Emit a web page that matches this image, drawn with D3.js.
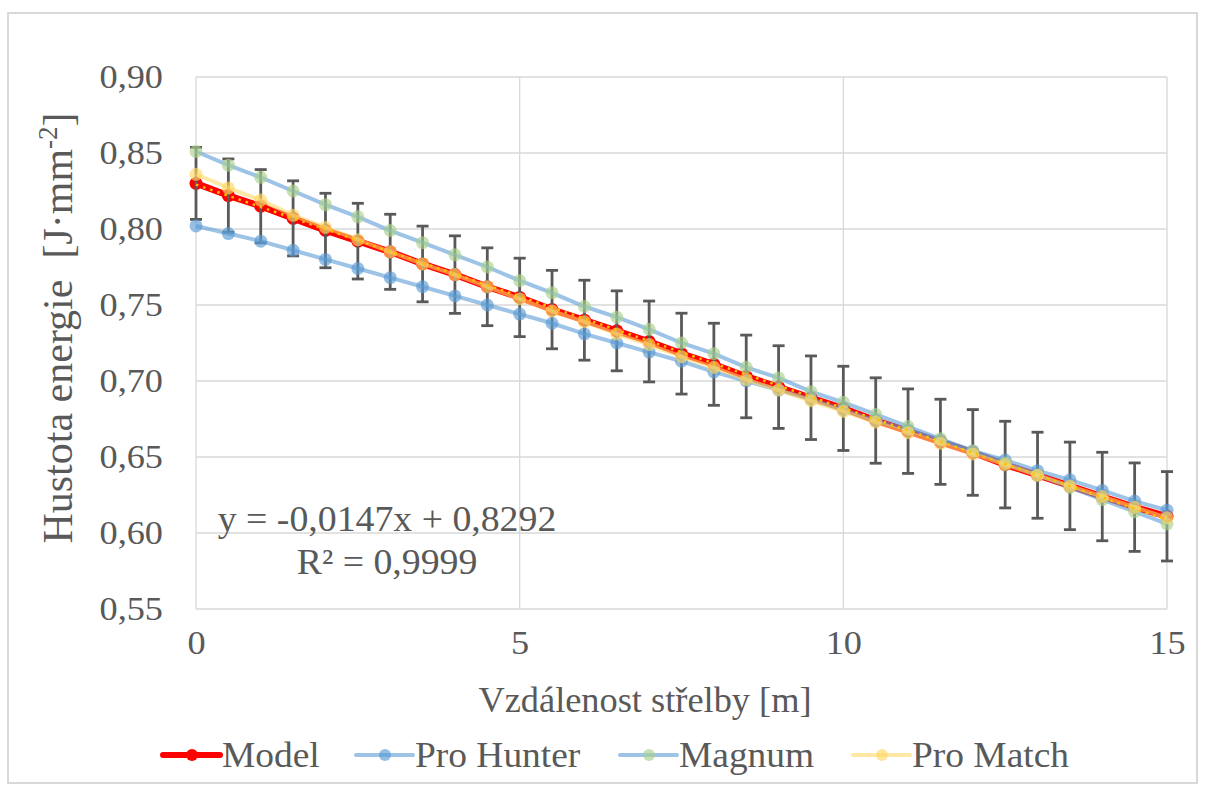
<!DOCTYPE html>
<html>
<head>
<meta charset="utf-8">
<script src="https://cdn.jsdelivr.net/npm/d3@7"></script>
<style>
  html, body { margin: 0; padding: 0; background: #fff; }
  svg { display: block; }
  text { font-family: "Liberation Serif", "Times New Roman", serif; fill: #595959; }
</style>
</head>
<body>
<svg id="chart" width="1206" height="790"></svg>
<script>
// ---- data ----
const distances = [0,0.5,1,1.5,2,2.5,3,3.5,4,4.5,5,5.5,6,6.5,7,7.5,8,8.5,9,9.5,10,10.5,11,11.5,12,12.5,13,13.5,14,14.5,15];
const model = [0.830,0.822,0.815,0.807,0.799,0.792,0.785,0.777,0.770,0.762,0.755,0.747,0.740,0.733,0.726,0.718,0.711,0.703,0.696,0.689,0.682,0.674,0.667,0.660,0.653,0.645,0.638,0.631,0.624,0.617,0.611];
const modelError = [0.0237,0.0241,0.0241,0.0247,0.0245,0.0249,0.0247,0.0249,0.0255,0.0256,0.0258,0.0258,0.0263,0.0263,0.0266,0.0266,0.0270,0.0272,0.0272,0.0275,0.0277,0.0281,0.0278,0.0280,0.0282,0.0285,0.0283,0.0288,0.0291,0.0291,0.0294];
const proHunter = [0.802,0.797,0.792,0.786,0.780,0.774,0.768,0.762,0.756,0.750,0.744,0.738,0.731,0.725,0.719,0.713,0.706,0.700,0.694,0.688,0.681,0.674,0.668,0.661,0.654,0.648,0.641,0.635,0.628,0.621,0.615];
const magnum = [0.851,0.842,0.834,0.825,0.816,0.808,0.799,0.791,0.783,0.775,0.766,0.758,0.749,0.742,0.734,0.725,0.718,0.709,0.702,0.693,0.686,0.678,0.670,0.662,0.654,0.646,0.638,0.630,0.622,0.614,0.606];
const proMatch = [0.836,0.827,0.819,0.809,0.801,0.793,0.785,0.777,0.770,0.762,0.754,0.746,0.739,0.731,0.724,0.716,0.709,0.701,0.694,0.687,0.680,0.673,0.666,0.659,0.652,0.645,0.638,0.631,0.624,0.617,0.610];
const trendSlope = -0.0147, trendIntercept = 0.8292;
const xTicks = [0,5,10,15];
const yTicks = [0.55,0.60,0.65,0.70,0.75,0.80,0.85,0.90];
const seriesNames = ["Model","Pro Hunter","Magnum","Pro Match"];

// ---- layout ----
const svg = d3.select("#chart");
const L = 196, R = 1167, T = 77, B = 609;
const x = d3.scaleLinear().domain([0,15]).range([L,R]);
const y = d3.scaleLinear().domain([0.55,0.90]).range([B,T]);
const fmt = v => d3.format(".2f")(v).replace(".", ",");
const SX = 1.08; // horizontal stretch of the reference's text

function stretchedText(parent, tx, ty, txt, size, anchor, sx) {
  return parent.append("text")
    .attr("transform", `translate(${tx},${ty}) scale(${sx||SX},1)`)
    .attr("text-anchor", anchor || "start").attr("font-size", size).text(txt);
}

// outer border
svg.append("rect").attr("x",8).attr("y",13).attr("width",1189).attr("height",770)
  .attr("fill","none").attr("stroke","#d9d9d9").attr("stroke-width",2);

// gridlines
const grid = svg.append("g");
grid.selectAll("line.h").data(yTicks).join("line")
  .attr("x1",L).attr("x2",R).attr("y1",d=>y(d)).attr("y2",d=>y(d))
  .attr("stroke","#d9d9d9").attr("stroke-width",1.3);
grid.selectAll("line.v").data(xTicks).join("line")
  .attr("y1",T).attr("y2",B).attr("x1",d=>x(d)).attr("x2",d=>x(d))
  .attr("stroke","#d9d9d9").attr("stroke-width",1.3);

// axes (labels only)
const yAxis = svg.append("g").attr("transform",`translate(${L},0)`)
  .call(d3.axisLeft(y).tickValues(yTicks).tickFormat(fmt).tickSize(0).tickPadding(33));
const xAxis = svg.append("g").attr("transform",`translate(0,${B})`)
  .call(d3.axisBottom(x).tickValues(xTicks).tickFormat(d3.format("d")).tickSize(0).tickPadding(22));
[yAxis,xAxis].forEach(a => {
  a.select(".domain").remove();
  a.selectAll("text").attr("font-size",33).attr("fill","#595959");
});
yAxis.selectAll("text").attr("x",null).attr("transform","translate(-33,0) scale(1.1,1)");
xAxis.selectAll("text").attr("transform","scale(1.1,1)");

// titles
stretchedText(svg, 645, 712, "Vzdálenost střelby [m]", 36, "middle", 1.01);
const yt = svg.append("text").attr("transform","translate(72,328) rotate(-90)")
  .attr("text-anchor","middle").attr("font-size",42).attr("xml:space","preserve")
  .style("white-space","pre");
yt.append("tspan").text("Hustota energie  [J·mm");
yt.append("tspan").attr("dy",-15).attr("font-size",27).text("-2");
yt.append("tspan").attr("dy",15).text("]");

const line = d3.line().x((d,i)=>x(distances[i])).y(d=>y(d));

// model (red)
svg.append("path").datum(model).attr("d",line).attr("fill","none")
  .attr("stroke","#ff0000").attr("stroke-width",6.5).attr("stroke-linejoin","round");
svg.append("g").selectAll("circle").data(model).join("circle")
  .attr("cx",(d,i)=>x(distances[i])).attr("cy",d=>y(d)).attr("r",6.5).attr("fill","#ff0000");

// error bars
const eb = svg.append("g").attr("stroke","#595959").attr("stroke-width",2.8);
model.forEach((m,i) => {
  const cx = x(distances[i]), y1 = y(m+modelError[i]), y2 = y(m-modelError[i]);
  eb.append("line").attr("x1",cx).attr("x2",cx).attr("y1",y1).attr("y2",y2);
  eb.append("line").attr("x1",cx-6).attr("x2",cx+6).attr("y1",y1).attr("y2",y1);
  eb.append("line").attr("x1",cx-6).attr("x2",cx+6).attr("y1",y2).attr("y2",y2);
});

// other series
const styles = [
  {data: proHunter, line: "#5b9bd5", marker: "#5b9bd5"},
  {data: magnum, line: "#5b9bd5", marker: "#a9d18e"},
  {data: proMatch, line: "#ffd966", marker: "#ffd966"}
];
styles.forEach(s => {
  svg.append("path").datum(s.data).attr("d",line).attr("fill","none")
    .attr("stroke",s.line).attr("stroke-opacity",0.6).attr("stroke-width",4);
  svg.append("g").selectAll("circle").data(s.data).join("circle")
    .attr("cx",(d,i)=>x(distances[i])).attr("cy",d=>y(d)).attr("r",6.5)
    .attr("fill",s.marker).attr("fill-opacity",0.65);
});

// trendline (dotted)
svg.append("line").attr("x1",x(0)).attr("x2",x(15))
  .attr("y1",y(trendIntercept)).attr("y2",y(trendIntercept+trendSlope*15))
  .attr("stroke","#ffc000").attr("stroke-width",2.5).attr("stroke-dasharray","2.5 5")
  .attr("stroke-linecap","butt");

// equation
stretchedText(svg, 387, 531, "y = -0,0147x + 0,8292", 35, "middle");
stretchedText(svg, 387, 574, "R² = 0,9999", 35, "middle");

// legend
const legendItems = [
  {name: seriesNames[0], x0: 163, line: "#ff0000", lw: 6, lo: 1, marker: "#ff0000", mo: 1},
  {name: seriesNames[1], x0: 356, line: "#5b9bd5", lw: 4, lo: 0.6, marker: "#5b9bd5", mo: 0.65},
  {name: seriesNames[2], x0: 620, line: "#5b9bd5", lw: 4, lo: 0.6, marker: "#a9d18e", mo: 0.65},
  {name: seriesNames[3], x0: 853, line: "#ffd966", lw: 4, lo: 0.6, marker: "#ffd966", mo: 0.65}
];
const lg = svg.append("g");
legendItems.forEach(it => {
  const cy = 755;
  lg.append("line").attr("x1",it.x0).attr("x2",it.x0+57).attr("y1",cy).attr("y2",cy)
    .attr("stroke",it.line).attr("stroke-opacity",it.lo).attr("stroke-width",it.lw).attr("stroke-linecap","round");
  lg.append("circle").attr("cx",it.x0+29).attr("cy",cy).attr("r",6).attr("fill",it.marker).attr("fill-opacity",it.mo);
  stretchedText(lg, it.x0+59, cy+12, it.name, 35, "start", 1.07);
});
</script>
</body>
</html>
